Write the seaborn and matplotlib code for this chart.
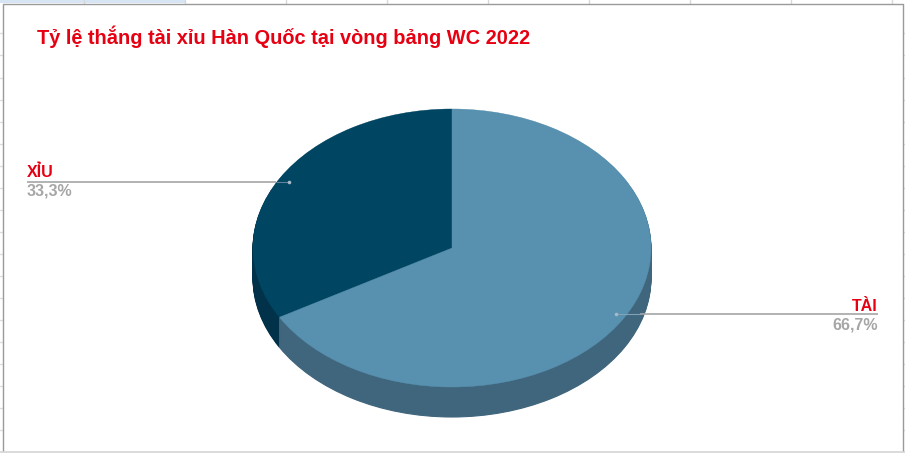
import matplotlib
matplotlib.use("Agg")
import matplotlib.pyplot as plt
import seaborn as sns

categories = ["XỈU", "TÀI"]
values = [33.3, 66.7]
value_labels = ["33,3%", "66,7%"]
title = "Tỷ lệ thắng tài xỉu Hàn Quốc tại vòng bảng WC 2022"

top_colors = sns.color_palette(["#004663", "#5891b0"])
side_colors = sns.color_palette(["#02314a", "#40667d"])

W, H = 905, 455
CX, CY, RX, RY, DEPTH = 452, 248, 199, 139, 30

sns.set_theme(style="white")
plt.rcParams["font.family"] = ["Liberation Sans", "DejaVu Sans"]

fig = plt.figure(figsize=(W / 100, H / 100), dpi=100, facecolor="white")
ax = fig.add_axes([0, 0, 1, 1])

# extruded side, then the top face
for d in range(DEPTH, 0, -1):
    side, _ = ax.pie(values, colors=side_colors, startangle=90, center=(0, -d / RY),
                     wedgeprops={"linewidth": 0.8})
    for w in side:
        w.set_edgecolor(w.get_facecolor())
wedges, _ = ax.pie(values, colors=top_colors, startangle=90, center=(0, 0),
                   wedgeprops={"linewidth": 0.3})
for w in wedges:
    w.set_edgecolor(w.get_facecolor())
ax.set_aspect("auto")
ax.set_xlim(-CX / RX, (W - CX) / RX)
ax.set_ylim(-(H - CY) / RY, CY / RY)
ax.axis("off")

ov = fig.add_axes([0, 0, 1, 1], facecolor="none")
ov.set_xlim(0, W)
ov.set_ylim(H, 0)
ov.axis("off")

# surrounding sheet and chart frame
ov.fill_between([0, 185], 0, 3, color="#d6e4f4", lw=0)
for x in [84, 185, 286, 387, 488, 589, 690, 791, 892]:
    ov.plot([x, x], [0, 3], color="#d8d8d8", lw=1)
for y in [33, 55, 78, 100, 122, 144, 166, 188, 210, 232, 254, 276, 298, 320, 342, 364, 386, 408, 430]:
    ov.plot([0, 2], [y, y], color="#dddddd", lw=1)
    ov.plot([903, 905], [y, y], color="#dddddd", lw=1)
ov.plot([2.5, 2.5, 902.5, 902.5], [451, 3.5, 3.5, 451], color="#9a9a9a", lw=1)
ov.plot([0, W], [451.5, 451.5], color="#d4d4d4", lw=1.2)

ov.text(37, 44, title, color="#e60012", fontsize=14.44, fontweight="bold",
        va="baseline", ha="left")

line_color = "#a6a6a6"
# XỈU leader
ov.plot([27, 276], [182, 182], color=line_color, lw=1.2, solid_capstyle="butt")
ov.plot([276, 289], [182, 182], color="#5f8298", lw=0.8, solid_capstyle="butt")
ov.plot([289], [182], "o", ms=2.6, color="#a9b9c6", mew=0)
ov.text(27, 177, categories[0], color="#e60012", fontsize=11.5, fontweight="bold",
        ha="left", va="baseline")
ov.text(27, 195, value_labels[0], color="#a6a6a6", fontsize=11.5, fontweight="bold",
        ha="left", va="baseline")
# TÀI leader
ov.plot([640, 878], [314, 314], color=line_color, lw=1.2, solid_capstyle="butt")
ov.plot([616, 640], [314, 314], color="#7fa3b6", lw=0.8, solid_capstyle="butt")
ov.plot([616], [314], "o", ms=2.6, color="#a6b8c3", mew=0)
ov.text(878, 311, categories[1], color="#e60012", fontsize=11.5, fontweight="bold",
        ha="right", va="baseline")
ov.text(878, 329, value_labels[1], color="#a6a6a6", fontsize=11.5, fontweight="bold",
        ha="right", va="baseline")

fig.savefig("out.png", dpi=100, facecolor="white")
